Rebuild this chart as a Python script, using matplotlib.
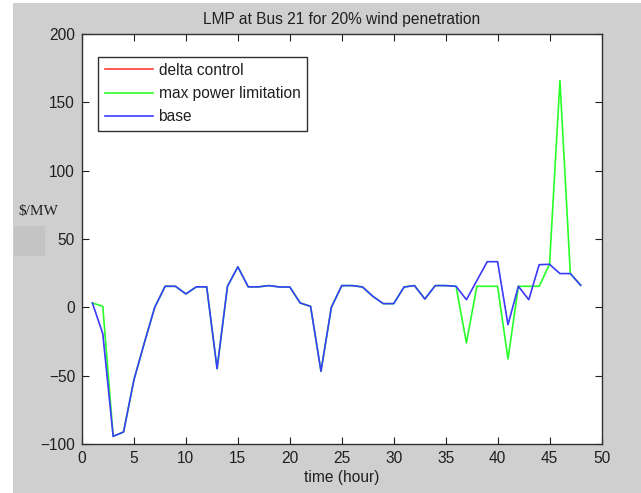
import matplotlib.pyplot as plt
from matplotlib.patches import Rectangle
import numpy as np

plt.rcParams['font.family'] = ['Liberation Sans', 'DejaVu Sans']

hours = list(range(1, 49))

# LMP ($/MW) per hour, bus 21
base = [3.2, -19.3, -94.4, -91.2, -53, -26, 0, 15.4, 15.4, 9.8,
        15, 15, -44.9, 15.4, 29.6, 15, 15, 15.9, 14.9, 14.9,
        3.2, 0.7, -46.8, 0, 15.9, 15.9, 14.9, 8, 2.7, 2.7,
        14.9, 15.9, 6.1, 15.9, 15.9, 15.4, 5.6, 19.5, 33.4, 33.4,
        -12.7, 15.4, 5.6, 31.2, 31.5, 24.7, 24.7, 16.1]
max_power = [3.2, 0.7, -94.4, -91.2, -53, -26, 0, 15.4, 15.4, 9.8,
             15, 15, -44.9, 15.4, 29.6, 15, 15, 15.9, 14.9, 14.9,
             3.2, 0.7, -46.8, 0, 15.9, 15.9, 14.9, 8, 2.7, 2.7,
             14.9, 15.9, 6.1, 15.9, 15.9, 15.4, -26, 15.4, 15.4, 15.4,
             -37.8, 15.4, 15.4, 15.4, 31.5, 166, 24.7, 16.1]
delta = [3.2, -19.3, -94.4, -91.2, -53, -26, 0, 15.4, 15.4, 9.8,
         15, 15, -44.9, 15.4, 29.6, 15, 15, 15.9, 14.9, 14.9,
         3.2, 0.7, -46.8, 0, 15.9, 15.9, 14.9, 8, 2.7, 2.7,
         14.9, 15.9, 6.1, 15.9, 15.9, 15.4, 5.6, 19.5, 33.4, 33.4,
         -12.7, 15.4, 5.6, 31.2, 31.5, 24.7, 24.7, 16.1]

fs = 11.2
fig = plt.figure(figsize=(6.41, 4.93), dpi=100, facecolor='white')
W, H = 641, 493
# grey figure panel
fig.patches.append(Rectangle((13 / W, 0), 1, 490 / H, transform=fig.transFigure,
                             facecolor='#cfcfcf', edgecolor='none', zorder=-10))
fig.patches.append(Rectangle((14 / W, 1 - 256 / H), 31 / W, 30 / H, transform=fig.transFigure,
                             facecolor='#c4c4c4', edgecolor='none', zorder=-9))

ax = fig.add_axes([82 / W, 49 / H, 519.5 / W, 410 / H])
# delta control sits under the base curve
ax.plot(hours, delta, color='#ff3c3c', lw=0.4, label='delta control')
ax.plot(hours, max_power, color='#28ff28', lw=1.2, label='max power limitation')
ax.plot(hours, base, color='#3c3cff', lw=1.2, label='base')

ax.set_xlim(0, 50)
ax.set_ylim(-100, 200)
ax.set_xticks(np.arange(0, 51, 5))
ax.set_yticks(np.arange(-100, 201, 50))
ax.tick_params(direction='in', length=5, width=0.8, top=True, right=True,
               labelsize=fs, colors='#202020', pad=5)
for s in ax.spines.values():
    s.set_linewidth(1.0)
    s.set_color('#303030')

ax.set_title('LMP at Bus 21 for 20% wind penetration', fontsize=fs, pad=7.5, color='#202020')
ax.set_xlabel('time (hour)', fontsize=fs, labelpad=3, color='#202020')
fig.text(18 / W, 1 - 212 / H, '$/MW', family='Liberation Serif', fontsize=11,
         va='center', ha='left', color='#202020')

leg = ax.legend(loc='upper left', bbox_to_anchor=(0.0314, 0.9446), fancybox=False,
                edgecolor='#303030', framealpha=1, fontsize=fs, handlelength=3.1,
                borderaxespad=0, labelspacing=0.53, handletextpad=0.37, borderpad=0.4)
leg.get_frame().set_linewidth(1.0)
for h in leg.get_lines():
    h.set_linewidth(1.2)
for t in leg.get_texts():
    t.set_color('#202020')

fig.savefig('out.png', dpi=100, facecolor=fig.get_facecolor())
